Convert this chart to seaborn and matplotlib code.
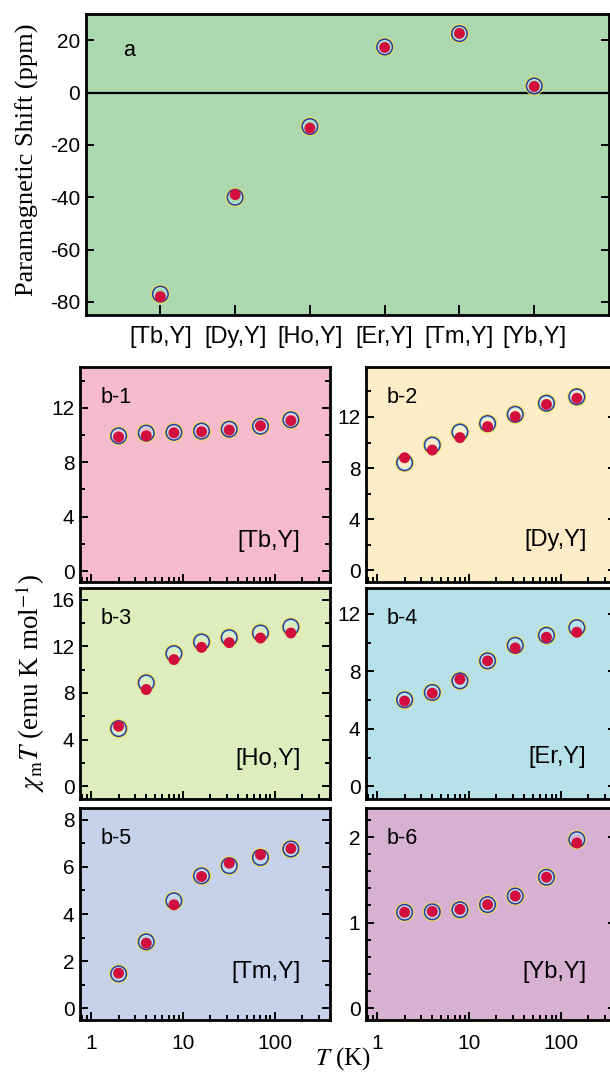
import matplotlib
matplotlib.use('Agg')
import matplotlib.pyplot as plt
import seaborn as sns
from matplotlib.ticker import MultipleLocator, FixedLocator, NullFormatter

sns.set_style('ticks')
plt.rcParams['font.family'] = ['Liberation Sans', 'DejaVu Sans']
plt.rcParams['mathtext.fontset'] = 'stix'
plt.rcParams['axes.unicode_minus'] = False
plt.rcParams['text.color'] = 'black'
plt.rcParams['xtick.color'] = 'black'
plt.rcParams['ytick.color'] = 'black'

# panel a: paramagnetic shift per pair
pairs = ['[Tb,Y]', '[Dy,Y]', '[Ho,Y]', '[Er,Y]', '[Tm,Y]', '[Yb,Y]']
shift_open = [-77.0, -40.0, -13.0, 17.4, 22.5, 2.5]
shift_fill = [-78.0, -39.0, -13.6, 17.2, 22.6, 2.3]

# panels b: chi_m T vs T
temps = [2, 4, 8, 16, 32, 70, 150]
b1_open = [9.94, 10.14, 10.20, 10.29, 10.43, 10.65, 11.12]
b1_fill = [9.85, 9.94, 10.16, 10.24, 10.36, 10.68, 11.05]
b2_open = [8.42, 9.80, 10.82, 11.48, 12.20, 13.07, 13.57]
b2_fill = [8.81, 9.41, 10.38, 11.24, 12.03, 12.97, 13.46]
b3_open = [4.94, 8.86, 11.37, 12.37, 12.74, 13.14, 13.66]
b3_fill = [5.14, 8.29, 10.86, 11.91, 12.31, 12.71, 13.14]
b4_open = [6.02, 6.53, 7.34, 8.73, 9.81, 10.51, 11.04]
b4_fill = [5.93, 6.48, 7.45, 8.73, 9.63, 10.37, 10.72]
b5_open = [1.46, 2.82, 4.56, 5.62, 6.05, 6.40, 6.76]
b5_fill = [1.49, 2.76, 4.39, 5.59, 6.16, 6.52, 6.78]
b6_open = [1.12, 1.125, 1.15, 1.21, 1.31, 1.53, 1.97]
b6_fill = [1.12, 1.13, 1.155, 1.21, 1.31, 1.53, 1.93]

W, H = 610, 1074
fig = plt.figure(figsize=(W / 100, H / 100), dpi=100)


def px_axes(left, top, right, bottom):
    # axes box given in pixels of the final image
    return fig.add_axes([left / W, 1 - bottom / H, (right - left) / W, (bottom - top) / H])


def draw_points(ax, x, y_open, y_fill):
    # open circle = blue ring with a thin yellow halo, filled red dot on top
    sns.scatterplot(x=x, y=y_open, ax=ax, s=165, facecolors='none',
                    edgecolor='#f0e040', linewidth=0.9, zorder=3)
    sns.scatterplot(x=x, y=y_open, ax=ax, s=85, facecolors='none',
                    edgecolor='#b4eef2', linewidth=0.8, zorder=3)
    sns.scatterplot(x=x, y=y_open, ax=ax, s=125, facecolors='none',
                    edgecolor='#2c3c9e', linewidth=1.1, zorder=4)
    sns.scatterplot(x=x, y=y_fill, ax=ax, s=62, color='#d20f3c',
                    edgecolor='none', zorder=5)


def style_frame(ax, bg):
    ax.set_facecolor(bg)
    for sp in ax.spines.values():
        sp.set_visible(True)
        sp.set_linewidth(2.0)
        sp.set_color('black')
    ax.tick_params(which='both', direction='in', left=True, right=True,
                   top=False, bottom=True, width=1.4, colors='black',
                   labelsize=15, pad=4)
    ax.tick_params(which='major', length=6)
    ax.tick_params(which='minor', length=3.5)
    ax.set_xlabel('')
    ax.set_ylabel('')


# ---- panel a ----
ax_a = px_axes(85.6, 14, 609, 315)
draw_points(ax_a, pairs, shift_open, shift_fill)
ax_a.axhline(0, color='black', lw=1.6, zorder=2)
style_frame(ax_a, '#acd8b0')
ax_a.set_xlim(-1, 6)
ax_a.set_ylim(-85, 30)
ax_a.yaxis.set_major_locator(MultipleLocator(20))
ax_a.tick_params(axis='x', which='major', length=7, labelsize=17, pad=8)
ax_a.text(0.071, 0.88, 'a', transform=ax_a.transAxes, fontsize=15.5,
          ha='left', va='center')

# ---- panels b ----
panels = [
    ('b-1', '[Tb,Y]', b1_open, b1_fill, '#f5bacb', (80, 367, 330, 582), (-0.8, 15), 4, 2, 0.192),
    ('b-2', '[Dy,Y]', b2_open, b2_fill, '#fdecc8', (366, 367, 616, 582), (-0.9, 15.9), 4, 2, 0.195),
    ('b-3', '[Ho,Y]', b3_open, b3_fill, '#deecbe', (80, 588, 330, 799), (-1.1, 17), 4, 2, 0.19),
    ('b-4', '[Er,Y]', b4_open, b4_fill, '#b6e0ea', (366, 588, 616, 799), (-0.88, 13.8), 4, 2, 0.2),
    ('b-5', '[Tm,Y]', b5_open, b5_fill, '#c5d2ea', (80, 808, 330, 1020), (-0.5, 8.5), 2, 1, 0.226),
    ('b-6', '[Yb,Y]', b6_open, b6_fill, '#d6b1d2', (366, 808, 616, 1020), (-0.14, 2.34), 1, 0.2, 0.226),
]

for i, (tag, pair, y_open, y_fill, bg, box, ylim, major, minor, lab_y) in enumerate(panels):
    ax = px_axes(*box)
    draw_points(ax, temps, y_open, y_fill)
    style_frame(ax, bg)
    ax.set_xscale('log')
    ax.set_xlim(0.76, 400)
    ax.set_ylim(*ylim)
    ax.yaxis.set_major_locator(MultipleLocator(major))
    ax.yaxis.set_minor_locator(MultipleLocator(minor))
    ax.xaxis.set_major_locator(FixedLocator([1, 10, 100]))
    if i >= 4:
        ax.set_xticklabels(['1', '10', '100'])
        ax.tick_params(axis='x', pad=10)
    else:
        ax.xaxis.set_major_formatter(NullFormatter())
    ax.xaxis.set_minor_formatter(NullFormatter())
    ax.text(0.083, 0.856, tag, transform=ax.transAxes, fontsize=15.5,
            ha='left', va='center')
    ax.text(0.882, lab_y, pair, transform=ax.transAxes, fontsize=17,
            ha='right', va='center')

serif = ['Liberation Serif', 'DejaVu Serif']
fig.text(27 / W, 1 - 160 / H, 'Paramagnetic Shift (ppm)', rotation=90,
         ha='center', va='center', fontsize=19, family=serif)
fig.text(30 / W, 1 - 683 / H, r'$\chi_{\mathrm{m}}T$ (emu K mol$^{-1}$)',
         rotation=90, ha='center', va='center', fontsize=19.5, family=serif)
fig.text(343 / W, 1 - 1059 / H, r'$T$ (K)', ha='center', va='center',
         fontsize=18, family=serif)

fig.savefig('out.png', dpi=100)
